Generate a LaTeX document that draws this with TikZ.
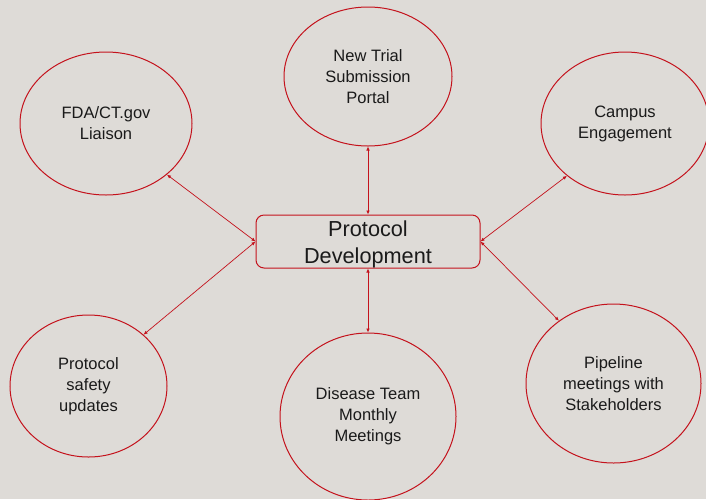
\documentclass[tikz,border=0pt]{standalone}
\usepackage{fontspec}
\setmainfont{Liberation Sans}
\usetikzlibrary{shapes.geometric,arrows.meta}
\definecolor{bgc}{RGB}{222,219,215}
\definecolor{redc}{RGB}{196,18,28}
\definecolor{txt}{RGB}{26,26,26}
\tikzset{
  bubble/.style={ellipse,draw=redc,line width=1pt,inner sep=0pt,align=center,text=txt,
    font=\fontsize{16.5pt}{21pt}\selectfont},
  hub/.style={rectangle,rounded corners=8pt,draw=redc,line width=1pt,
    minimum width=224pt,minimum height=53pt,inner sep=0pt},
  hubtext/.style={align=center,text=txt,inner sep=0pt,font=\fontsize{21.7pt}{27pt}\selectfont},
  link/.style={draw=redc,line width=0.7pt,{Latex[length=4pt,width=3.5pt]}-{Latex[length=4pt,width=3.5pt]}}
}
\begin{document}
\begin{tikzpicture}[x=1pt,y=-1pt]
\fill[bgc] (0,0) rectangle (706,499);
\useasboundingbox (0,0) rectangle (706,499);
\node[hub] (box) at (368,241.5) {};
\node[hubtext] (boxtext) at (368,244) {Protocol\\Development};
\node[bubble,minimum width=168pt,minimum height=139pt] (top) at (368,76.5) {New Trial\\Submission\\Portal};
\node[bubble,minimum width=172pt,minimum height=143pt] (fda) at (106,123.5) {FDA/CT.gov\\Liaison};
\node[bubble,minimum width=168pt,minimum height=143pt] (campus) at (625,123.5) {Campus\\Engagement};
\node[bubble,minimum width=157pt,minimum height=142pt] (safety) at (88.5,386) {Protocol\\safety\\updates};
\node[bubble,minimum width=176pt,minimum height=167pt] (disease) at (368,416.5) {Disease Team\\Monthly\\Meetings};
\node[bubble,minimum width=175pt,minimum height=159pt] (pipe) at (613.5,383.5) {Pipeline\\meetings with\\Stakeholders};
\draw[link] (top.south) -- (box.north);
\draw[link] (box.south) -- (disease.north);
\draw[link] (fda.-40) -- (box.west);
\draw[link] (box.west) -- (safety.43);
\draw[link] (campus.-138) -- (box.east);
\draw[link] (box.east) -- (pipe.131);
\end{tikzpicture}
\end{document}
